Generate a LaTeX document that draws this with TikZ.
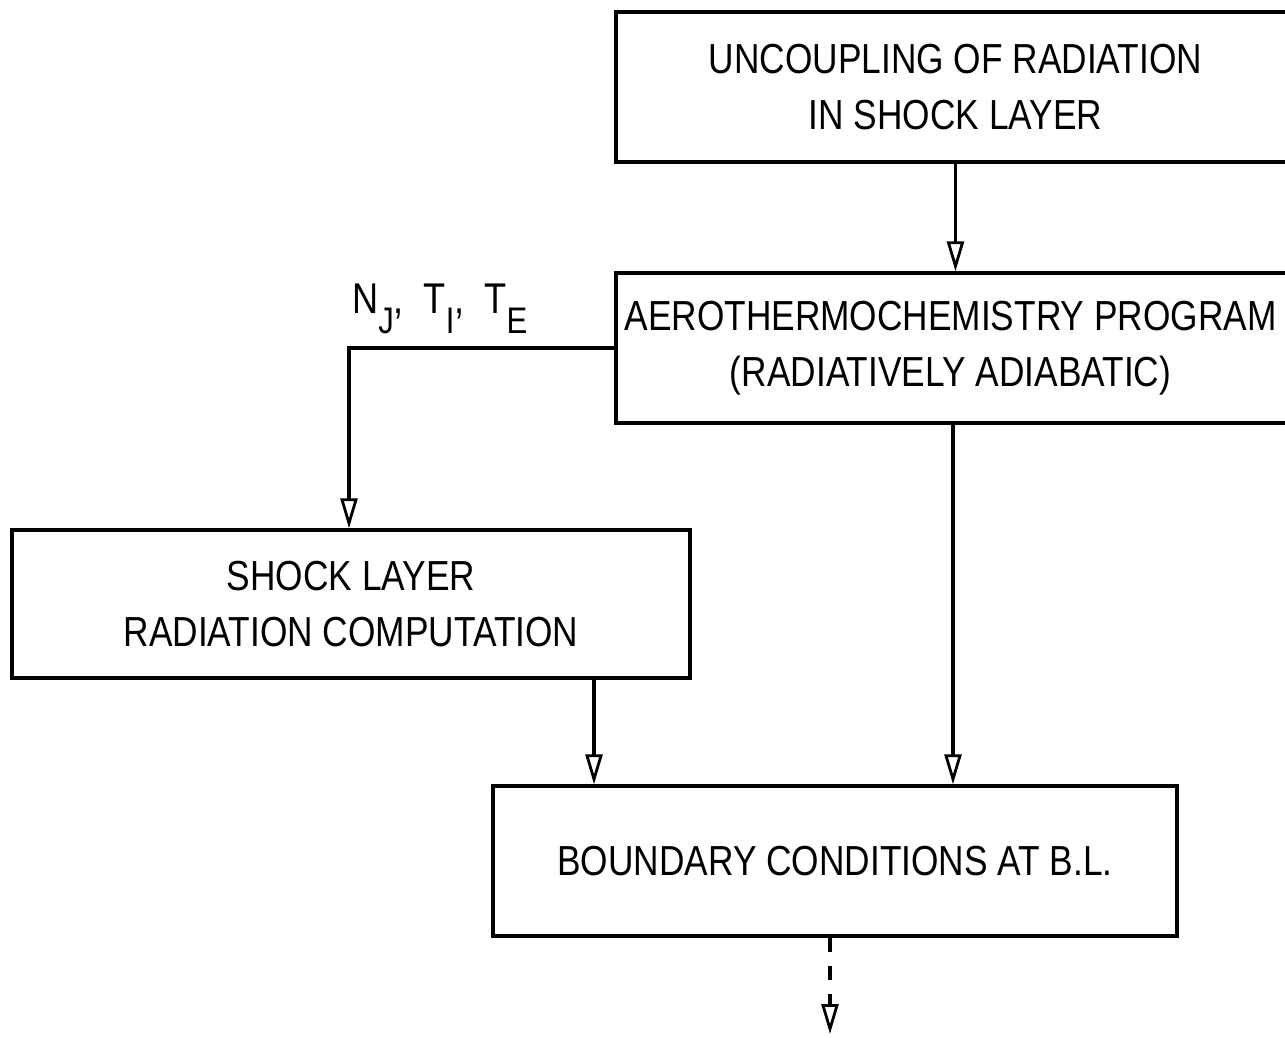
\documentclass[tikz,border=0pt]{standalone}
\usepackage{fontspec}
\setmainfont{Liberation Sans}[FakeStretch=0.84]
\usetikzlibrary{arrows.meta}
\newcommand{\lowsub}[1]{\raisebox{-20pt}{\fontsize{37}{37}\selectfont #1}}
\begin{document}
\begin{tikzpicture}[x=1pt,y=-1pt,
  flowbox/.style={draw, line width=3.4pt, rectangle, align=center,
    font=\fontsize{42}{56}\selectfont, inner sep=0pt},
  flow/.style={line width=3.2pt, -{Triangle[open, width=17pt, length=30pt, line width=2.8pt]}},
  lbl/.style={font=\fontsize{43}{50}\selectfont, inner sep=0pt}]
\useasboundingbox (0,0) rectangle (1285,1038);
\clip (0,0) rectangle (1285,1038);

% blocks
\node[flowbox, minimum width=679pt, minimum height=150pt] (uncouple) at (955.5,87)
  {UNCOUPLING OF RADIATION\\IN SHOCK LAYER};
\node[flowbox, minimum width=679pt, minimum height=150pt] (aero) at (955.5,348)
  {\hspace*{-10pt}AEROTHERMOCHEMISTRY PROGRAM\\\hspace*{-10pt}(RADIATIVELY ADIABATIC)};
\node[flowbox, minimum width=678pt, minimum height=148pt] (shock) at (351,604)
  {SHOCK LAYER\\RADIATION COMPUTATION};
\node[flowbox, minimum width=684pt, minimum height=150pt] (bound) at (835,861)
  {BOUNDARY CONDITIONS AT B.L.};

% routing points
\coordinate (tap) at (349,348);
\coordinate (xshock) at (594,0);
\coordinate (xaero) at (953,0);
\coordinate (xbound) at (830,0);
\coordinate (out) at (830,1034);

% connectors
\draw[flow] (uncouple.south) -- (aero.north);
\draw[flow] (aero.west) -- (tap) -- (tap |- shock.north);
\draw[flow] (shock.south -| xshock) -- (bound.north -| xshock);
\draw[flow] (aero.south -| xaero) -- (bound.north -| xaero);
\draw[flow, dash pattern=on 14pt off 14pt] (bound.south -| xbound) -- (out);

% transferred quantities
\node[lbl, anchor=base west] (qty) at (352,313)
  {N\lowsub{J},\hspace{20pt}T\lowsub{I},\hspace{20pt}T\lowsub{E}};
\end{tikzpicture}
\end{document}
